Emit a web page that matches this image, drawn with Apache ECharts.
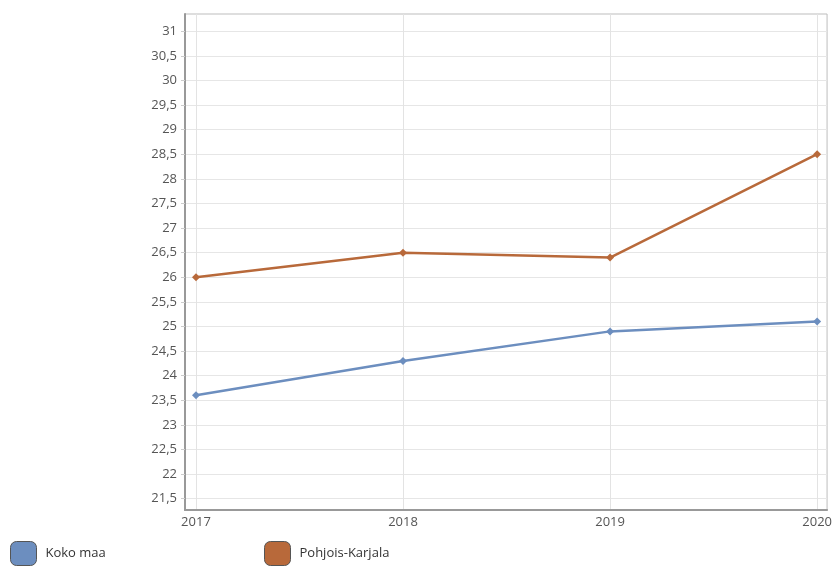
<!DOCTYPE html>
<html>
<head>
<meta charset="utf-8">
<script src="https://cdn.jsdelivr.net/npm/echarts@6/dist/echarts.min.js"></script>
<style>
  html, body { margin: 0; padding: 0; background: #fff; }
  #chart { width: 835px; height: 566px; }
</style>
</head>
<body>
<div id="chart"></div>
<script>
// data
const years = [2017, 2018, 2019, 2020];
const kokoMaa = [23.6, 24.3, 24.9, 25.1];
const pohjoisKarjala = [26.0, 26.5, 26.4, 28.5];
const yTicks = [21.5, 22, 22.5, 23, 23.5, 24, 24.5, 25, 25.5, 26, 26.5, 27, 27.5, 28, 28.5, 29, 29.5, 30, 30.5, 31];

const blue = '#6c8ebf';
const orange = '#b8693a';

const chart = echarts.init(document.getElementById('chart'));

function pairs(vals) {
  return years.map((y, i) => [y, vals[i]]);
}

const fmt = v => String(v).replace('.', ',');

const option = {
  animation: false,
  textStyle: { fontFamily: 'Open Sans' },
  grid: {
    left: 185, right: 7, top: 14, bottom: 56,
    show: true, borderColor: '#bdbdbd', borderWidth: 1
  },
  legend: [
    {
      left: 10, top: 541, padding: 0, itemWidth: 26, itemHeight: 24, itemGap: 10,
      icon: 'roundRect', data: ['Koko maa'],
      textStyle: { color: '#333', fontSize: 13, fontFamily: 'Open Sans', padding: [2, 0, 0, 4] },
      itemStyle: { borderColor: '#555', borderWidth: 1 }
    },
    {
      left: 264, top: 541, padding: 0, itemWidth: 26, itemHeight: 24, itemGap: 10,
      icon: 'roundRect', data: ['Pohjois-Karjala'],
      textStyle: { color: '#333', fontSize: 13, fontFamily: 'Open Sans', padding: [2, 0, 0, 4] },
      itemStyle: { borderColor: '#555', borderWidth: 1 }
    }
  ],
  xAxis: {
    type: 'value',
    min: 2016.947,
    max: 2020.048,
    axisLine: { show: true, onZero: false, lineStyle: { color: '#999', width: 2 } },
    axisTick: { show: false, customValues: years },
    axisLabel: {
      customValues: years, color: '#555', fontSize: 13, margin: 6,
      formatter: v => String(v)
    },
    splitLine: { show: true, lineStyle: { color: '#e3e3e3', width: 1 } }
  },
  yAxis: {
    type: 'value',
    min: 21.27,
    max: 31.35,
    axisLine: { show: true, lineStyle: { color: '#999', width: 2 } },
    axisTick: { show: true, length: 4, customValues: yTicks, lineStyle: { color: '#ccc' } },
    axisLabel: { customValues: yTicks, color: '#555', fontSize: 13, margin: 8, formatter: fmt },
    splitLine: { show: true, lineStyle: { color: '#e6e6e6', width: 1 } }
  },
  series: [
    {
      name: 'Koko maa', type: 'line', data: pairs(kokoMaa),
      symbol: 'diamond', symbolSize: 8,
      lineStyle: { color: blue, width: 2.5 },
      itemStyle: { color: blue }
    },
    {
      name: 'Pohjois-Karjala', type: 'line', data: pairs(pohjoisKarjala),
      symbol: 'diamond', symbolSize: 8,
      lineStyle: { color: orange, width: 2.5 },
      itemStyle: { color: orange }
    }
  ]
};

chart.setOption(option);
</script>
</body>
</html>
